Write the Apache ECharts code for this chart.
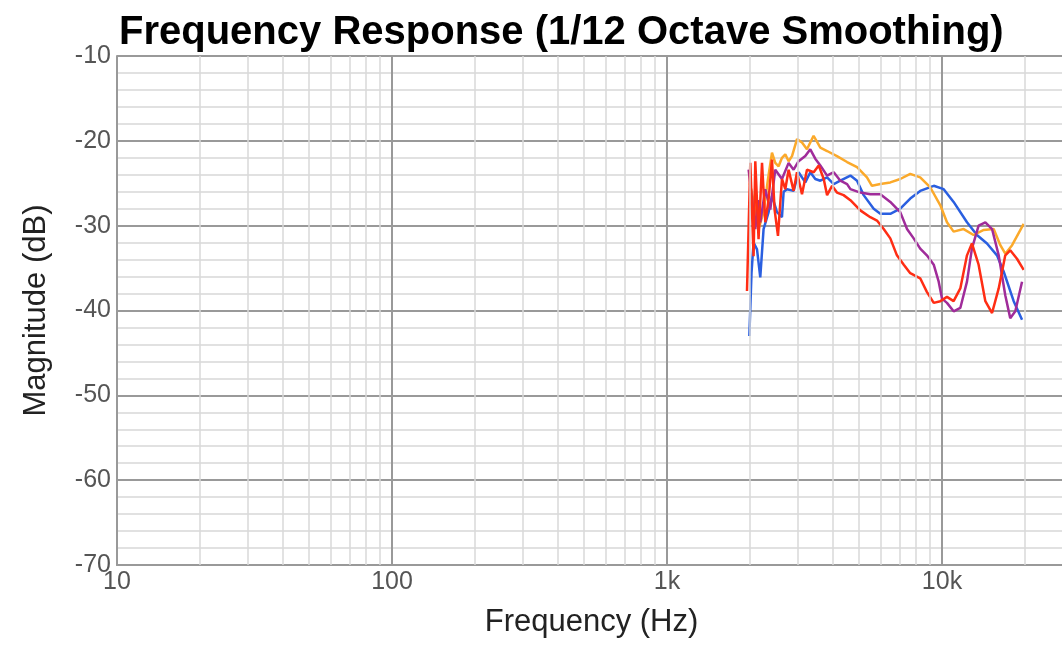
<!DOCTYPE html>
<html>
<head>
<meta charset="utf-8">
<title>Frequency Response</title>
<script src="https://cdn.jsdelivr.net/npm/echarts@6/dist/echarts.min.js"></script>
<style>
  html, body { margin: 0; padding: 0; background: #fff; }
  #chart { width: 1062px; height: 656px; }
</style>
</head>
<body>
<div id="chart"></div>
<script>
// frequency (Hz) / magnitude (dB)
var blueFreq = [1993, 2030, 2065, 2125, 2184, 2245, 2342, 2409, 2512, 2619, 2656, 2732, 2887, 3010, 3184, 3320, 3462, 3611, 3821, 4040, 4270, 4645, 4910, 5190, 5645, 5969, 6488, 7051, 7668, 8334, 9333, 10145, 11023, 12330, 13400, 14580, 15850, 16760, 18230, 19550];
var blueDb = [-43.0, -35.5, -32.0, -32.8, -36.1, -30.4, -28.4, -26.5, -28.4, -29.0, -26.0, -25.7, -25.9, -23.7, -24.9, -23.7, -24.5, -24.7, -24.3, -25.1, -24.7, -24.1, -24.7, -26.4, -28.0, -28.6, -28.6, -28.0, -26.8, -25.9, -25.3, -25.7, -27.2, -29.6, -31.1, -32.1, -33.5, -35.4, -38.9, -41.1];

var orangeFreq = [2000, 2080, 2153, 2245, 2330, 2409, 2476, 2546, 2619, 2693, 2769, 2849, 2970, 3097, 3229, 3413, 3611, 3821, 4151, 4518, 4910, 5336, 5563, 5969, 6488, 7051, 7668, 8334, 9072, 9863, 10428, 11023, 11990, 13030, 14190, 15420, 16300, 16990, 17990, 19820];
var orangeDb = [-25, -27.5, -30.4, -28.4, -24.5, -21.4, -22.6, -23.0, -22.0, -21.6, -22.4, -21.8, -19.8, -20.2, -21.0, -19.4, -20.8, -21.2, -21.8, -22.5, -23.1, -24.3, -25.3, -25.1, -24.9, -24.5, -23.9, -24.3, -25.5, -27.6, -29.6, -30.7, -30.4, -31.1, -30.5, -30.4, -32.3, -33.3, -32.3, -29.8];

var purpleFreq = [1981, 2040, 2095, 2140, 2184, 2278, 2375, 2476, 2619, 2769, 2887, 3010, 3184, 3320, 3461, 3611, 3821, 4040, 4270, 4518, 4645, 5047, 5487, 5969, 6488, 7051, 7463, 7890, 8334, 8811, 9333, 9729, 10000, 10428, 11023, 11660, 12330, 12850, 13590, 14380, 15210, 16080, 16990, 17710, 18480, 19550];
var purpleDb = [-23.4, -27, -30.4, -27, -29.6, -25.7, -28.1, -23.4, -24.5, -22.6, -23.4, -22.4, -21.8, -21.0, -22.1, -22.9, -24.1, -23.7, -24.7, -25.1, -25.7, -26.1, -26.3, -26.3, -27.2, -28.4, -30.4, -31.5, -32.7, -33.5, -34.6, -36.6, -38.6, -39.1, -40.1, -39.7, -36.6, -32.7, -30.0, -29.6, -30.4, -33.5, -38.2, -40.9, -40.1, -36.6];

var redFreq = [1954, 2009, 2065, 2095, 2153, 2216, 2278, 2342, 2409, 2462, 2533, 2619, 2693, 2769, 2887, 2970, 3097, 3229, 3415, 3562, 3715, 3821, 3984, 4151, 4387, 4645, 5047, 5487, 5803, 6139, 6488, 6858, 7262, 7668, 8334, 8811, 9333, 9863, 10428, 11023, 11660, 12330, 12850, 13590, 14380, 15210, 16080, 16990, 17710, 18740, 19820];
var redDb = [-37.7, -22.6, -33.6, -22.4, -31.6, -22.6, -29.6, -26.9, -22.2, -28.1, -31.2, -24.5, -25.7, -23.4, -25.9, -23.7, -26.3, -23.4, -23.7, -22.9, -24.5, -26.4, -25.3, -26.1, -26.4, -27.0, -28.2, -29.0, -29.4, -30.4, -31.5, -33.5, -34.6, -35.6, -36.2, -37.8, -39.1, -38.9, -38.4, -38.9, -37.4, -33.5, -32.1, -34.6, -38.9, -40.3, -37.4, -33.5, -32.9, -33.9, -35.2];

var decades = [10, 100, 1000, 10000];
var tickNames = { 10: '10', 100: '100', 1000: '1k', 10000: '10k' };

function pairs(xs, ys) {
  return xs.map(function (x, i) { return [x, ys[i]]; });
}

var xMax = 28250;

// minor vertical grid lines 2..9 in each decade
var minorLines = [];
decades.forEach(function (d) {
  for (var k = 2; k <= 9; k++) {
    if (k * d < xMax) minorLines.push({ xAxis: k * d });
  }
});

var chart = echarts.init(document.getElementById('chart'));
var font = 'Liberation Sans, Arial, Helvetica, sans-serif';

chart.setOption({
  animation: false,
  title: {
    text: 'Frequency Response (1/12 Octave Smoothing)',
    left: 114,
    top: 8,
    textStyle: { fontFamily: font, fontWeight: 'bold', fontSize: 40, color: '#000' }
  },
  grid: { left: 117, right: -4, top: 56, bottom: 91, outerBoundsMode: 'none' },
  xAxis: {
    type: 'log',
    logBase: 10,
    min: 10,
    max: xMax,
    name: 'Frequency (Hz)',
    nameLocation: 'middle',
    nameGap: 42,
    nameTextStyle: { fontFamily: font, fontSize: 31, color: '#222' },
    axisLine: { show: true, lineStyle: { color: '#999', width: 2 } },
    axisTick: { show: false },
    axisLabel: {
      fontFamily: font, fontSize: 25, color: '#555', margin: 5,
      formatter: function (v) {
        var r = Math.round(v);
        return tickNames[r] || '';
      }
    },
    splitLine: { show: true, lineStyle: { color: '#999', width: 2 } }
  },
  yAxis: {
    type: 'value',
    min: -70,
    max: -10,
    interval: 10,
    name: 'Magnitude (dB)',
    nameLocation: 'middle',
    nameGap: 65,
    nameTextStyle: { fontFamily: font, fontSize: 31, color: '#222' },
    axisLine: { show: true, lineStyle: { color: '#999', width: 2 } },
    axisTick: { show: false },
    axisLabel: { fontFamily: font, fontSize: 25, color: '#555', margin: 6 },
    splitLine: { show: true, lineStyle: { color: '#999', width: 2 } },
    minorTick: { show: false, splitNumber: 5 },
    minorSplitLine: { show: true, lineStyle: { color: '#d8d8d8', width: 1.5 } }
  },
  series: [
    {
      type: 'line',
      data: [],
      z: 1,
      silent: true,
      markLine: {
        silent: true,
        symbol: 'none',
        label: { show: false },
        lineStyle: { color: '#d8d8d8', width: 1.5, type: 'solid' },
        data: minorLines
      }
    },
    { name: 'blue', type: 'line', z: 3, showSymbol: false, data: pairs(blueFreq, blueDb), lineStyle: { color: '#2a5fe0', width: 2.5 }, itemStyle: { color: '#2a5fe0' } },
    { name: 'orange', type: 'line', z: 3, showSymbol: false, data: pairs(orangeFreq, orangeDb), lineStyle: { color: '#fba92a', width: 2.5 }, itemStyle: { color: '#fba92a' } },
    { name: 'purple', type: 'line', z: 3, showSymbol: false, data: pairs(purpleFreq, purpleDb), lineStyle: { color: '#a02c9a', width: 2.5 }, itemStyle: { color: '#a02c9a' } },
    { name: 'red', type: 'line', z: 3, showSymbol: false, data: pairs(redFreq, redDb), lineStyle: { color: '#ff2d14', width: 2.5 }, itemStyle: { color: '#ff2d14' } }
  ]
});
</script>
</body>
</html>
